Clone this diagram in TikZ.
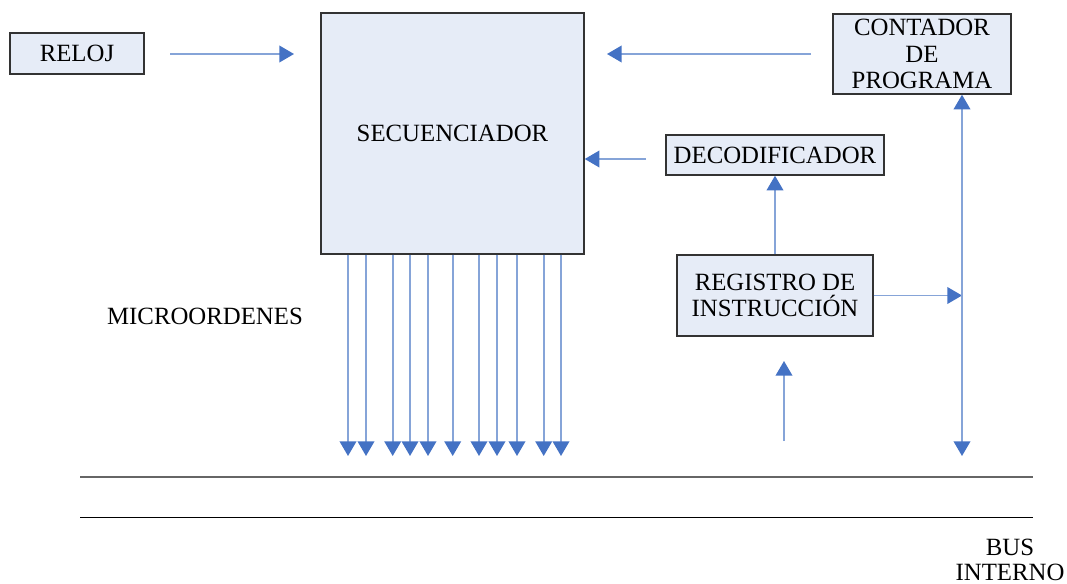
\documentclass[tikz,border=0pt]{standalone}
\usepackage{fontspec}
\setmainfont{Liberation Serif}
\usetikzlibrary{arrows.meta}
\definecolor{boxfill}{HTML}{E6ECF7}
\definecolor{boxline}{HTML}{333333}
\definecolor{lineblue}{HTML}{86A4D8}
\definecolor{tipblue}{HTML}{4472C4}
\tikzset{
  blk/.style={draw=boxline, line width=1.1pt, fill=boxfill, inner sep=0pt, align=center,
    font=\fontsize{18.6}{19.9}\selectfont},
  lbl/.style={inner sep=0pt, align=center, font=\fontsize{18.6}{18.75}\selectfont},
  arr/.style={draw=lineblue, line width=1.2pt, -{Triangle[length=11pt,width=12.5pt,color=tipblue]}},
  darr/.style={draw=lineblue, line width=1.2pt, {Triangle[length=11pt,width=12.5pt,color=tipblue]}-{Triangle[length=11pt,width=12.5pt,color=tipblue]}},
}
\begin{document}
\begin{tikzpicture}[x=0.75pt,y=-0.75pt]
\useasboundingbox (0,0) rectangle (1067,584);
% blocks
\node[blk, minimum width=100.5pt, minimum height=30.75pt] (REL) at (77,53.5) {RELOJ};
\node[blk, minimum width=197.25pt, minimum height=180.75pt] (SEC) at (452.5,133.5) {SECUENCIADOR};
\node[blk, minimum width=133.5pt, minimum height=60pt] (CONT) at (922,54) {CONTADOR\\DE\\PROGRAMA};
\node[blk, minimum width=163.5pt, minimum height=30pt] (DEC) at (775,155) {DECODIFICADOR};
\node[blk, minimum width=147pt, minimum height=60.75pt] (REG) at (775,295.5) {REGISTRO DE\\INSTRUCCIÓN};
% labels
\node[lbl] (MIC) at (205,316) {MICROORDENES};
\node[lbl] (BUS) at (1010,560) {BUS\\INTERNO};
% free ends
\coordinate (r1) at (170,54);
\coordinate (r2) at (294,54);
\coordinate (c1) at (811,54);
\coordinate (c2) at (607,54);
\coordinate (d1) at (646,159);
\coordinate (busb) at (962,456);
\coordinate (u1) at (784,441);
\coordinate (u2) at (784,361);
\coordinate (b1l) at (80,477);
\coordinate (b1r) at (1033,477);
\coordinate (b2l) at (80,517);
\coordinate (b2r) at (1033,517);
% connectors
\draw[arr] (r1) -- (r2);
\draw[arr] (c1) -- (c2);
\draw[arr] (d1) -- (d1 -| SEC.east);
\draw[arr] (REG.north) -- (DEC.south);
\draw[arr] (REG.east) -- (REG.east -| busb);
\draw[darr] (busb) -- (962,0 |- CONT.south);
\draw[arr] (u1) -- (u2);
\foreach \x in {348,366,392.7,410,428,452.7,479,497,517,543.7,561}
  \draw[arr] (\x,0 |- SEC.south) -- (\x,456);
% bus lines
\draw[draw=black!60, line width=0.8pt] (b1l) -- (b1r);
\draw[draw=black, line width=0.7pt] (b2l) -- (b2r);
\end{tikzpicture}
\end{document}
